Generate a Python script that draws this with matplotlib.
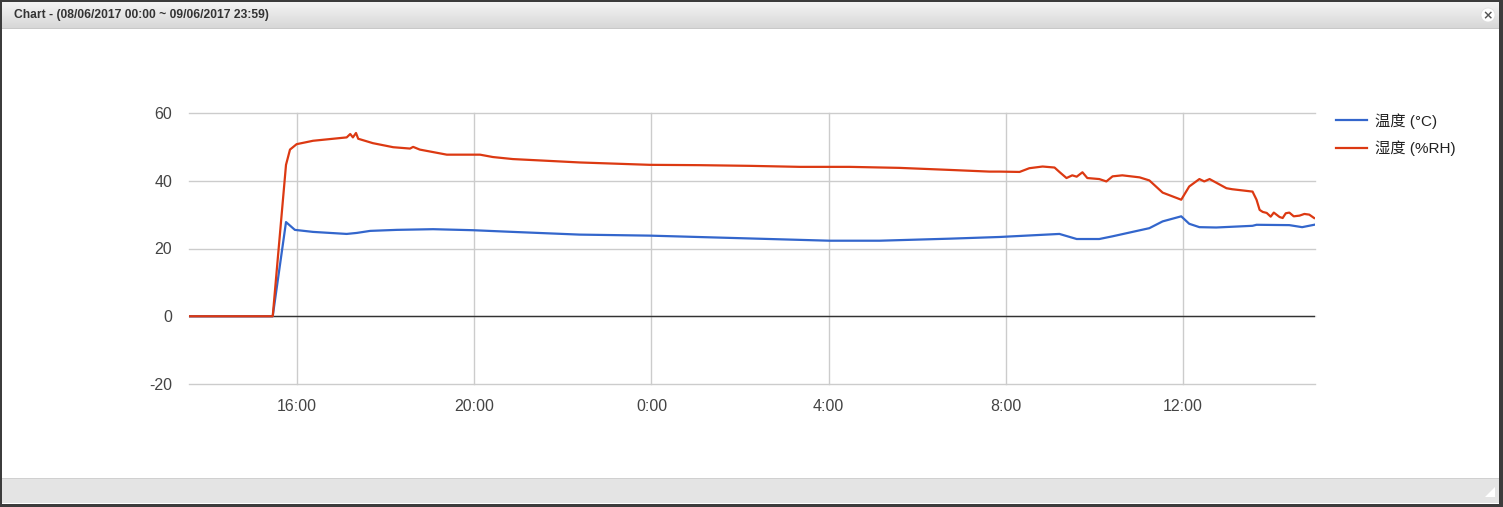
import matplotlib
matplotlib.use("Agg")
import matplotlib.pyplot as plt
from matplotlib.patches import Rectangle, Circle, Polygon
import numpy as np

plt.rcParams['font.family'] = ['Liberation Sans', 'Noto Sans CJK SC', 'DejaVu Sans']

# ---- data (hours since 08/06/2017 00:00) ----
temp_hours = [13.56, 15.45, 15.75, 15.95, 16.36, 17.12, 17.35, 17.65, 18.25, 19.07, 19.97,
              20.87, 22.38, 23.96, 28.02, 29.15, 30.73, 31.86, 33.21, 33.60, 34.11, 34.41,
              35.24, 35.54, 35.96, 36.14, 36.37, 36.75, 37.57, 37.66, 38.40, 38.69, 38.96]
temp_values = [0.0, 0.0, 27.8, 25.5, 24.9, 24.3, 24.6, 25.2, 25.5, 25.7, 25.4,
               24.9, 24.1, 23.8, 22.3, 22.3, 22.9, 23.4, 24.3, 22.8, 22.8, 23.6,
               26.0, 28.0, 29.5, 27.3, 26.3, 26.2, 26.7, 27.0, 26.9, 26.3, 27.0]

hum_hours = [13.56, 15.45, 15.75, 15.84, 15.99, 16.36, 16.74, 17.12, 17.20, 17.26, 17.33,
             17.38, 17.71, 18.17, 18.55, 18.62, 18.77, 19.38, 20.13, 20.42, 20.87, 21.63,
             22.38, 23.96, 25.09, 26.22, 27.35, 28.47, 29.60, 30.73, 31.63, 31.86, 32.31,
             32.53, 32.83, 33.10, 33.21, 33.37, 33.50, 33.60, 33.73, 33.84, 34.11, 34.27,
             34.41, 34.63, 35.02, 35.24, 35.54, 35.96, 36.14, 36.37, 36.48, 36.60, 36.98,
             37.11, 37.57, 37.66, 37.73, 37.80, 37.89, 37.98, 38.05, 38.11, 38.18, 38.25,
             38.32, 38.40, 38.50, 38.63, 38.74, 38.85, 38.96]
hum_values = [0.0, 0.0, 44.7, 49.2, 50.8, 51.8, 52.3, 52.8, 53.8, 52.8, 54.1,
              52.4, 51.1, 49.9, 49.5, 50.0, 49.2, 47.7, 47.7, 47.0, 46.4, 45.9,
              45.4, 44.7, 44.6, 44.4, 44.1, 44.1, 43.8, 43.2, 42.7, 42.7, 42.6,
              43.7, 44.2, 43.9, 42.6, 40.8, 41.6, 41.2, 42.5, 40.8, 40.5, 39.8,
              41.3, 41.6, 41.0, 40.1, 36.5, 34.4, 38.3, 40.5, 39.8, 40.5, 37.8,
              37.5, 36.8, 34.4, 31.4, 30.8, 30.5, 29.4, 30.6, 30.0, 29.3, 29.0,
              30.4, 30.6, 29.5, 29.7, 30.2, 30.0, 29.0]

series_labels = ["温度 (°C)", "湿度 (%RH)"]
series_colors = ["#3366cc", "#dc3912"]
tick_positions = [16, 20, 24, 28, 32, 36]
tick_labels = ["16:00", "20:00", "0:00", "4:00", "8:00", "12:00"]
y_ticks = [-20, 0, 20, 40, 60]
title_text = "Chart - (08/06/2017 00:00 ~ 09/06/2017 23:59)"

W, H = 1503, 507
fig = plt.figure(figsize=(W / 100, H / 100), dpi=100)
fig.patch.set_facecolor("#3c3c3c")

def fx(px):
    return px / W

def fy(py):
    return 1 - py / H

# window body
fig.patches.append(Rectangle((fx(2), fy(504)), fx(1499) - fx(2), fy(2) - fy(504),
                             transform=fig.transFigure, facecolor="white", edgecolor="none", zorder=-5))
# title bar gradient
grad = np.linspace(0, 1, 64).reshape(-1, 1)
tax = fig.add_axes([fx(2), fy(29), fx(1499) - fx(2), fy(2) - fy(29)], zorder=1)
tax.imshow(grad, aspect='auto', cmap=matplotlib.colors.LinearSegmentedColormap.from_list(
    "tb", ["#d6d6d6", "#f4f4f4"]), origin='lower', extent=[0, 1, 0, 1])
tax.set_axis_off()
fig.patches.append(Rectangle((fx(2), fy(29)), fx(1499) - fx(2), fy(28) - fy(29),
                             transform=fig.transFigure, facecolor="#c8c8c8", edgecolor="none", zorder=2))
fig.text(fx(14), fy(15), title_text, fontsize=8.7, fontweight="bold", color="#333333",
         va="center", ha="left", zorder=3)
# close button (circle in inches so it stays round)
fig.patches.append(Circle((14.88, (H - 15) / 100), 0.07, transform=fig.dpi_scale_trans,
                          facecolor="white", edgecolor="#dddddd", lw=0.5, zorder=3))
fig.text(fx(1488), fy(15.5), "×", fontsize=9, fontweight="bold", color="#555555",
         ha="center", va="center", family="DejaVu Sans", zorder=4)
# bottom bar
fig.patches.append(Rectangle((fx(2), fy(503)), fx(1499) - fx(2), fy(479) - fy(503),
                             transform=fig.transFigure, facecolor="#e4e4e4", edgecolor="none", zorder=2))
fig.patches.append(Rectangle((fx(2), fy(479)), fx(1499) - fx(2), fy(478) - fy(479),
                             transform=fig.transFigure, facecolor="#d0d0d0", edgecolor="none", zorder=2))
fig.patches.append(Polygon([(fx(1485), fy(497)), (fx(1495), fy(497)), (fx(1495), fy(487))],
                           closed=True, transform=fig.transFigure, facecolor="white",
                           edgecolor="none", zorder=3))

# chart axes
ax = fig.add_axes([fx(189), fy(384), fx(1315) - fx(189), fy(113) - fy(384)], zorder=5)
ax.set_facecolor("none")
ax.plot(temp_hours, temp_values, color=series_colors[0], lw=1.6, label=series_labels[0],
        solid_joinstyle="round", zorder=3)
ax.plot(hum_hours, hum_values, color=series_colors[1], lw=1.6, label=series_labels[1],
        solid_joinstyle="round", zorder=3)
ax.set_xlim(13.56, 38.98)
ax.set_ylim(-20, 60)
ax.set_yticks(y_ticks)
ax.set_yticklabels([str(v) for v in y_ticks])
ax.set_xticks(tick_positions)
ax.set_xticklabels(tick_labels)
ax.grid(True, color="#cccccc", lw=1.0)
for gl in ax.get_xgridlines() + ax.get_ygridlines():
    gl.set_clip_on(False)
ax.axhline(0, color="#333333", lw=1.0, zorder=2)
for s in ax.spines.values():
    s.set_visible(False)
ax.tick_params(length=0, labelsize=11.5, labelcolor="#444444")
ax.tick_params(axis='y', pad=12)
ax.tick_params(axis='x', pad=11)
ax.set_axisbelow(True)

leg = ax.legend(loc="upper left", bbox_to_anchor=(fx(1330), fy(107)), bbox_transform=fig.transFigure,
                frameon=False, fontsize=11, handlelength=2.0, handletextpad=0.55,
                labelspacing=0.75, borderaxespad=0)
for t in leg.get_texts():
    t.set_color("#222222")

fig.savefig("out.png", dpi=100, facecolor=fig.get_facecolor())
